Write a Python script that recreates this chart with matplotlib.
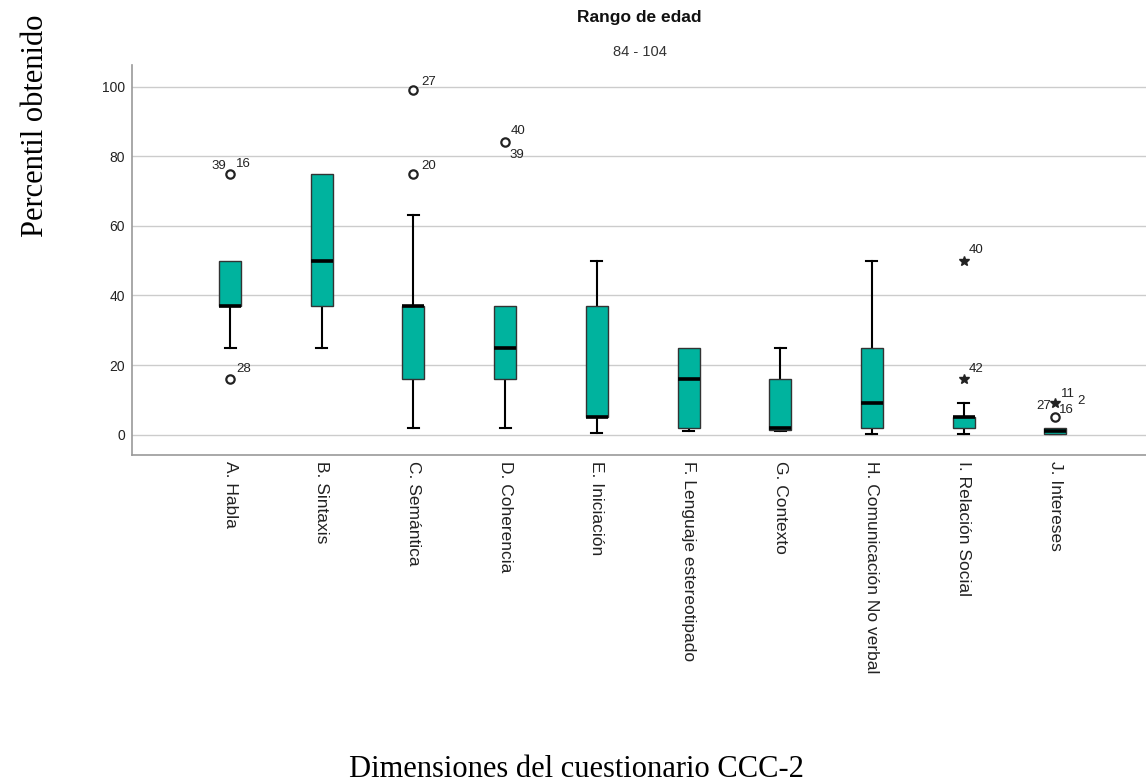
import matplotlib
matplotlib.use("Agg")
import matplotlib.pyplot as plt

# dimensiones del CCC-2, rango de edad 84 - 104
dimensiones = ["A. Habla", "B. Sintaxis", "C. Semántica", "D. Coherencia",
               "E. Iniciación", "F. Lenguaje estereotipado", "G. Contexto",
               "H. Comunicación No verbal", "I. Relación Social", "J. Intereses"]
bigote_inf = [25, 25, 2, 2, 0.5, 1, 1, 0.2, 0.2, 0.1]
q1 = [37, 37, 16, 16, 5, 2, 1.5, 2, 2, 0.2]
mediana = [37, 50, 37, 25, 5, 16, 2, 9, 5, 1]
q3 = [50, 75, 37, 37, 37, 25, 16, 25, 5, 1.8]
bigote_sup = [50, 75, 63, 37, 50, 25, 25, 50, 9, 1.8]

# atipicos: (dimension, valor, tipo)  o = atipico, * = extremo
atipicos = [(1, 75, "o"), (1, 16, "o"), (3, 99, "o"), (3, 75, "o"),
            (4, 84, "o"), (9, 50, "*"), (9, 16, "*"), (10, 9, "*"), (10, 5, "o")]
# etiquetas de caso: (dimension, valor, caso, desplazamiento en px)
casos = [(1, 75, "39", (-19, 8)), (1, 75, "16", (6, 10)), (1, 16, "28", (6, 10)),
         (3, 99, "27", (8, 8)), (3, 75, "20", (8, 8)),
         (4, 84, "40", (6, 11)), (4, 84, "39", (4, -13)),
         (9, 50, "40", (5, 11)), (9, 16, "42", (5, 10)),
         (10, 9, "27", (-19, -3)), (10, 9, "11", (6, 9)),
         (10, 9, "2", (22, 2)), (10, 9, "16", (4, -7))]

plt.rcParams['font.family'] = ['Liberation Sans', 'DejaVu Sans']

fig = plt.figure(figsize=(11.46, 7.84), dpi=100)
ax = fig.add_axes([0.1152, 0.4197, 0.8848, 0.4974])

stats = []
for i in range(len(dimensiones)):
    stats.append(dict(med=mediana[i], q1=q1[i], q3=q3[i],
                      whislo=bigote_inf[i], whishi=bigote_sup[i], fliers=[]))

pos = list(range(1, len(dimensiones) + 1))
bp = ax.bxp(stats, positions=pos, widths=0.24, patch_artist=True,
            showfliers=False,
            boxprops=dict(facecolor="#00b39e", edgecolor="#333333", linewidth=1.0),
            medianprops=dict(color="black", linewidth=2.6, solid_capstyle="butt"),
            whiskerprops=dict(color="black", linewidth=1.5),
            capprops=dict(color="black", linewidth=1.5),
            capwidths=0.12)
for b in bp["boxes"]:
    b.set_zorder(3)
for m in bp["medians"]:
    m.set_zorder(4)

# sin remate cuando el bigote coincide con el borde de la caja
for i in range(len(dimensiones)):
    if bigote_inf[i] >= q1[i]:
        bp["caps"][2 * i].set_visible(False)
    if bigote_sup[i] <= q3[i]:
        bp["caps"][2 * i + 1].set_visible(False)

for d, v, t in atipicos:
    if t == "o":
        ax.plot(d, v, "o", mfc="white", mec="#222222", ms=6, mew=1.6, zorder=5)
    else:
        ax.plot(d, v, "*", color="#222222", ms=7, zorder=5)

for d, v, c, off in casos:
    ax.annotate(c, (d, v), xytext=off, textcoords="offset pixels",
                fontsize=9.5, color="#222222", ha="left", va="center")

ax.set_xlim(-0.07, 10.99)
ax.set_ylim(-5.8, 106.2)
ax.set_yticks([0, 20, 40, 60, 80, 100])
ax.tick_params(axis="y", length=0, pad=5, labelsize=10, labelcolor="#222222")
ax.set_xticks(pos)
ax.set_xticklabels(dimensiones, rotation=270, va="top", ha="center",
                   fontsize=12.5, color="#222222")
ax.tick_params(axis="x", length=0, pad=4)
ax.grid(axis="y", color="#cccccc", linewidth=1.0)
ax.set_axisbelow(True)
for s in ["top", "right"]:
    ax.spines[s].set_visible(False)
for s in ["left", "bottom"]:
    ax.spines[s].set_color("#999999")
    ax.spines[s].set_linewidth(1.2)

fig.text(0.558, 0.978, "Rango de edad", ha="center", va="center",
         fontsize=12.5, fontweight="bold", color="#111111")
fig.text(0.558, 0.934, "84 - 104", ha="center", va="center",
         fontsize=10.5, color="#333333")
fig.text(0.031, 0.84, "Percentil obtenido", rotation=90, ha="center",
         va="center", fontsize=22, family="Liberation Serif")
fig.text(0.503, 0.018, "Dimensiones del cuestionario CCC-2", ha="center",
         va="center", fontsize=22, family="Liberation Serif")

fig.savefig("out.png", dpi=100, facecolor="white")
